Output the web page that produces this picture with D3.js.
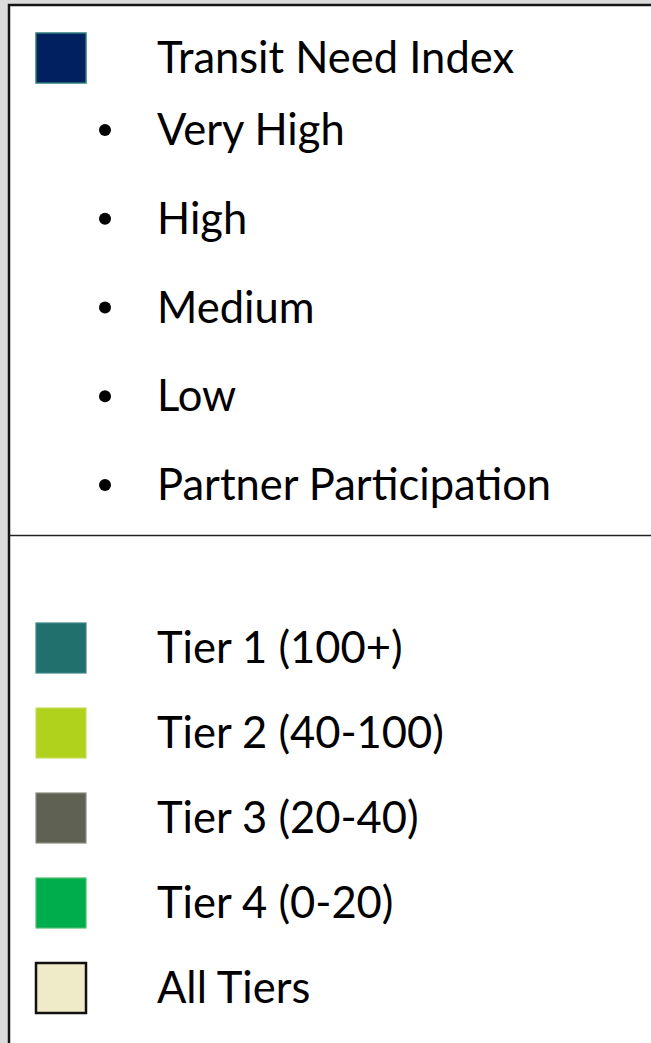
<!DOCTYPE html>
<html>
<head>
<meta charset="utf-8">
<script src="https://cdn.jsdelivr.net/npm/d3@7"></script>
<style>
  body { margin: 0; background: #d9d9d9; overflow: hidden; }
  svg { display: block; }
</style>
</head>
<body>
<div id="legend"></div>
<script>
// legend content
let indexTitle = "Transit Need Index";
let indexColor = "#012060";
let needLevels = ["Very High", "High", "Medium", "Low", "Partner Participation"];
let tierLabels = ["Tier 1 (100+)", "Tier 2 (40-100)", "Tier 3 (20-40)", "Tier 4 (0-20)", "All Tiers"];
let tierColors = ["#22706e", "#b0d21c", "#5f6152", "#00ad4c", "#efebc8"];
let tierStrokes = ["#3f8584", "#c4dd5a", "#8c8d80", "#4fbe6f", "#111111"];

let svgWidth = 651;
let svgHeight = 1043;

let svg = d3.select("#legend")
  .append("svg")
  .attr("width", svgWidth)
  .attr("height", svgHeight);

// grey map background peeking out on the left and top
svg.append("rect")
  .attr("width", svgWidth)
  .attr("height", svgHeight)
  .attr("fill", "#dcdcdc");

// the legend box runs off the right and bottom edges
svg.append("rect")
  .attr("x", 9)
  .attr("y", 5)
  .attr("width", svgWidth + 20)
  .attr("height", svgHeight + 20)
  .attr("fill", "#ffffff")
  .attr("stroke", "#161616")
  .attr("stroke-width", 2.5);

// divider between the two blocks
svg.append("line")
  .attr("x1", 9)
  .attr("x2", svgWidth)
  .attr("y1", 535.5)
  .attr("y2", 535.5)
  .attr("stroke", "#222")
  .attr("stroke-width", 1.6);

let font = "Lato, 'Open Sans', sans-serif";
let fontSize = 43.5;
let textX = 157;
let swatchX = 36;
let swatch = 50;
let capShift = 15;

// rows
let needY = d3.scalePoint()
  .domain(needLevels)
  .range([130, 485]);

let tierY = d3.scalePoint()
  .domain(tierLabels)
  .range([648, 988]);

// title row
svg.append("rect")
  .attr("x", swatchX)
  .attr("y", 58 - swatch / 2)
  .attr("width", swatch)
  .attr("height", swatch)
  .attr("fill", indexColor)
  .attr("stroke", "#2f7b7b")
  .attr("stroke-width", 1.5);

svg.append("text")
  .attr("x", textX)
  .attr("y", 58 + capShift)
  .style("font-family", font)
  .style("font-size", fontSize + "px")
  .style("fill", "#000")
  .text(indexTitle);

// bullet rows
let needGroup = svg.selectAll(".need")
  .data(needLevels)
  .enter()
  .append("g")
  .attr("class", "need");

needGroup.append("circle")
  .attr("cx", 105)
  .attr("cy", d => needY(d))
  .attr("r", 6)
  .attr("fill", "#000");

needGroup.append("text")
  .attr("x", textX)
  .attr("y", d => needY(d) + capShift)
  .style("font-family", font)
  .style("font-size", fontSize + "px")
  .style("fill", "#000")
  .text(d => d);

// tier rows
let tierGroup = svg.selectAll(".tier")
  .data(tierLabels)
  .enter()
  .append("g")
  .attr("class", "tier");

tierGroup.append("rect")
  .attr("x", swatchX)
  .attr("y", d => tierY(d) - swatch / 2)
  .attr("width", swatch)
  .attr("height", swatch)
  .attr("fill", (d, i) => tierColors[i])
  .attr("stroke", (d, i) => tierStrokes[i])
  .attr("stroke-width", (d, i) => i === tierLabels.length - 1 ? 2.5 : 1.2);

tierGroup.append("text")
  .attr("x", textX)
  .attr("y", d => tierY(d) + capShift)
  .style("font-family", font)
  .style("font-size", fontSize + "px")
  .style("fill", "#000")
  .text(d => d);
</script>
</body>
</html>
